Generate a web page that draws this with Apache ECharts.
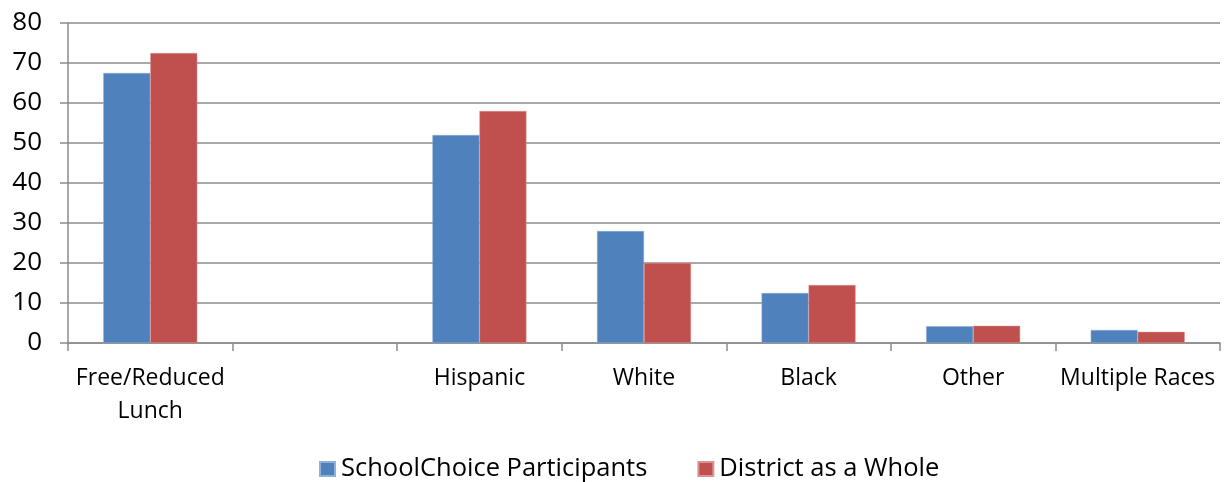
<!DOCTYPE html>
<html>
<head>
<meta charset="utf-8">
<script src="https://cdn.jsdelivr.net/npm/echarts@6/dist/echarts.min.js"></script>
<style>
  html, body { margin: 0; padding: 0; background: #fff; }
  #chart { width: 1231px; height: 482px; }
</style>
</head>
<body>
<div id="chart"></div>
<script>
// Categories (index 1 is an intentional blank spacer slot)
const categories = ['Free/Reduced\nLunch', '', 'Hispanic', 'White', 'Black', 'Other', 'Multiple Races'];
const schoolChoice = [67.5, null, 52, 28, 12.5, 4.2, 3.25];
const districtWhole = [72.5, null, 58, 20, 14.5, 4.3, 2.8];
const seriesNames = ['SchoolChoice Participants', 'District as a Whole'];

const FONT = 'Open Sans';
const AXIS_GRAY = '#8c8c8c';

const chart = echarts.init(document.getElementById('chart'));
chart.setOption({
  animation: false,
  textStyle: { fontFamily: FONT },
  grid: { left: 68, right: 11, top: 23, bottom: 139, containLabel: false },
  legend: {
    top: 451,
    left: 314,
    itemWidth: 15,
    itemHeight: 14,
    itemGap: 50,
    icon: 'rect',
    textStyle: { fontFamily: FONT, fontSize: 25.5, color: '#000', padding: [0, 0, 0, 1] },
    data: seriesNames
  },
  xAxis: {
    type: 'category',
    data: categories,
    axisLine: { lineStyle: { color: AXIS_GRAY, width: 1.5 } },
    axisTick: { show: true, length: 8, interval: 0, lineStyle: { color: AXIS_GRAY, width: 1.5 } },
    axisLabel: {
      interval: 0,
      margin: 19,
      fontFamily: FONT,
      fontSize: 23,
      lineHeight: 33,
      color: '#000'
    }
  },
  yAxis: {
    type: 'value',
    min: 0,
    max: 80,
    interval: 10,
    axisLine: { show: true, lineStyle: { color: AXIS_GRAY, width: 1.5 } },
    axisTick: { show: true, length: 8, lineStyle: { color: AXIS_GRAY, width: 1.5 } },
    axisLabel: { margin: 26, fontFamily: FONT, fontSize: 26, color: '#000' },
    splitLine: { show: true, lineStyle: { color: AXIS_GRAY, width: 1.5 } }
  },
  series: [
    {
      name: seriesNames[0],
      type: 'bar',
      data: schoolChoice,
      barWidth: 47,
      barGap: '0%',
      itemStyle: { color: '#4F81BD', borderColor: '#8fb0d8', borderWidth: 0.5 }
    },
    {
      name: seriesNames[1],
      type: 'bar',
      data: districtWhole,
      barWidth: 47,
      barGap: '0%',
      itemStyle: { color: '#C0504D', borderColor: '#dc9492', borderWidth: 0.5 }
    }
  ]
});
</script>
</body>
</html>
